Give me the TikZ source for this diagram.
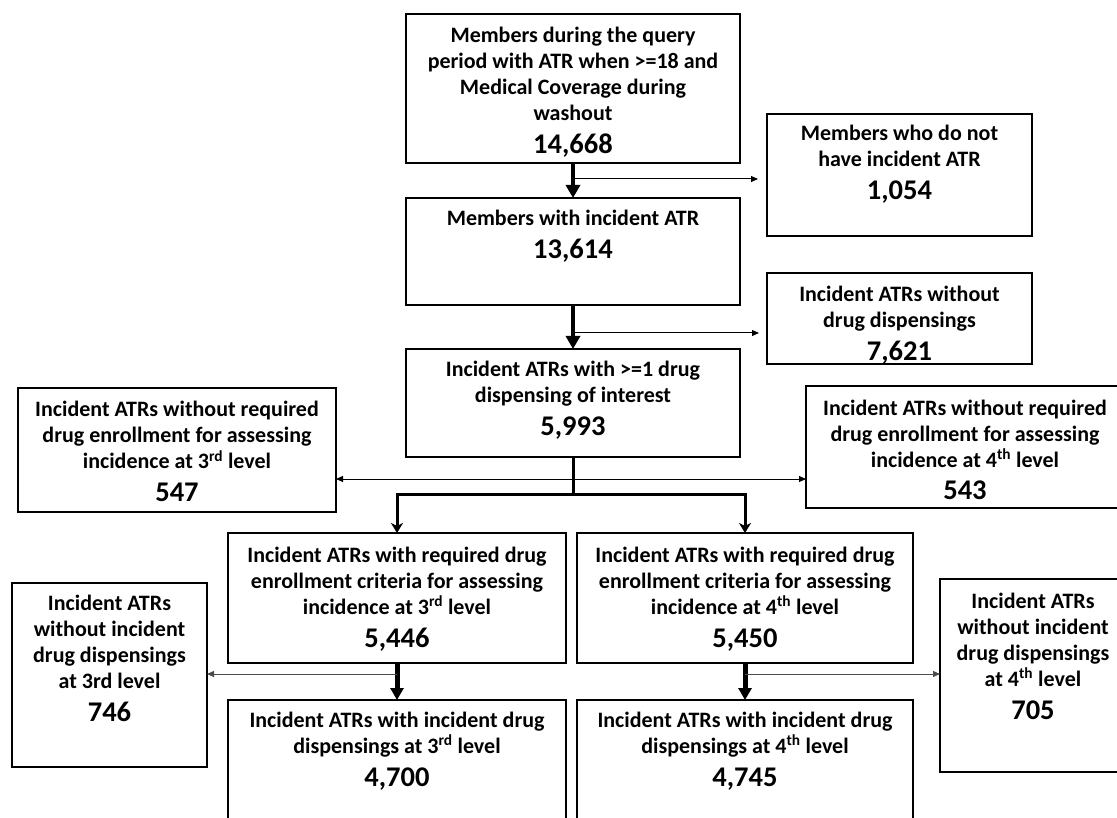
\documentclass[tikz,border=0pt]{standalone}
\usepackage{fontspec}
\setmainfont{Carlito}
\usetikzlibrary{arrows.meta}

% two-part box text: description lines, then the count in larger type
\newcommand\flowtext[2]{%
  \begin{minipage}[t]{360pt}\centering
  \fontsize{22}{26}\selectfont\bfseries #1\\[7pt]
  {\fontsize{28.5}{26}\selectfont #2}%
  \end{minipage}}

\begin{document}
\begin{tikzpicture}[x=1pt,y=-1pt,
  frame/.style={draw, line width=2.6pt, inner sep=0pt, outer sep=0pt},
  lbl/.style={anchor=base, inner sep=0pt, outer sep=0pt},
  main/.style={line width=4.5pt, -{Triangle[length=13pt,width=14pt]}},
  mainlow/.style={line width=5pt, -{Triangle[length=12pt,width=13pt]}},
  fork/.style={line width=3pt, -{Stealth[length=10pt,width=12pt,inset=3pt]}},
  side/.style={line width=1pt, -{Triangle[length=7pt,width=6pt]}},
  sidegray/.style={line width=1pt, draw=black!70, -{Triangle[length=7pt,width=6pt]}},
  both/.style={line width=1pt, {Triangle[length=7pt,width=6pt]}-{Triangle[length=7pt,width=6pt]}},
]
\useasboundingbox (0,0) rectangle (1117,818);
\clip (0,0) rectangle (1117,818);

% boxes
\node[frame, minimum width=334pt, minimum height=149pt] (a) at (573,88.5) {};
\node[frame, minimum width=334pt, minimum height=107pt] (b) at (573,251.5) {};
\node[frame, minimum width=265pt, minimum height=122pt] (c) at (899.5,175) {};
\node[frame, minimum width=265pt, minimum height=91pt]  (d) at (899.5,318.5) {};
\node[frame, minimum width=334pt, minimum height=108pt] (e) at (573,403) {};
\node[frame, minimum width=318pt, minimum height=124pt] (f) at (177,450) {};
\node[frame, minimum width=318pt, minimum height=122pt] (g) at (965,447) {};
\node[frame, minimum width=338pt, minimum height=130pt] (h) at (397,598) {};
\node[frame, minimum width=336pt, minimum height=130pt] (i) at (745,598) {};
\node[frame, minimum width=195pt, minimum height=184pt] (j) at (109.5,675) {};
\node[frame, minimum width=338pt, minimum height=150pt] (k) at (397,775) {};
\node[frame, minimum width=336pt, minimum height=150pt] (l) at (745,775) {};
\node[frame, minimum width=186pt, minimum height=193pt] (m) at (1033,675.5) {};

% box texts
\node[lbl] (ta) at ([yshift=-29pt]a.north) {\flowtext{Members during the query\\period with ATR when >=18 and\\Medical Coverage during\\washout}{14,668}};
\node[lbl] (tb) at ([yshift=-28pt]b.north) {\flowtext{Members with incident ATR}{13,614}};
\node[lbl] (tc) at ([yshift=-27pt]c.north) {\flowtext{Members who do not\\have incident ATR}{1,054}};
\node[lbl] (td) at ([yshift=-29pt]d.north) {\flowtext{Incident ATRs without\\drug dispensings}{7,621}};
\node[lbl] (te) at ([yshift=-28pt]e.north) {\flowtext{Incident ATRs with >=1 drug\\dispensing of interest}{5,993}};
\node[lbl] (tf) at ([yshift=-29pt]f.north) {\flowtext{Incident ATRs without required\\drug enrollment for assessing\\incidence at 3\textsuperscript{rd} level}{547}};
\node[lbl] (tg) at ([yshift=-29pt]g.north) {\flowtext{Incident ATRs without required\\drug enrollment for assessing\\incidence at 4\textsuperscript{th} level}{543}};
\node[lbl] (th) at ([yshift=-29pt]h.north) {\flowtext{Incident ATRs with required drug\\enrollment criteria for assessing\\incidence at 3\textsuperscript{rd} level}{5,446}};
\node[lbl] (ti) at ([yshift=-29pt]i.north) {\flowtext{Incident ATRs with required drug\\enrollment criteria for assessing\\incidence at 4\textsuperscript{th} level}{5,450}};
\node[lbl] (tj) at ([yshift=-27pt]j.north) {\flowtext{Incident ATRs\\without incident\\drug dispensings\\at 3rd level}{746}};
\node[lbl] (tk) at ([yshift=-27pt]k.north) {\flowtext{Incident ATRs with incident drug\\dispensings at 3\textsuperscript{rd} level}{4,700}};
\node[lbl] (tl) at ([yshift=-27pt]l.north) {\flowtext{Incident ATRs with incident drug\\dispensings at 4\textsuperscript{th} level}{4,745}};
\node[lbl] (tm) at ([yshift=-29pt]m.north) {\flowtext{Incident ATRs\\without incident\\drug dispensings\\at 4\textsuperscript{th} level}{705}};

% main flow
\draw[main] (a.south) -- (b.north);
\coordinate (ja) at (573,179);
\draw[side] (ja) -- ([xshift=-9pt]ja -| c.west);
\draw[main] (b.south) -- (e.north);
\coordinate (jb) at (573,333);
\draw[side] (jb) -- ([xshift=-8pt]jb -| d.west);

% split into the 3rd and 4th level branches
\coordinate (jx) at (573,479);
\draw[both] (jx -| f.east) -- (jx -| g.west);
\coordinate (fk) at (573,494);
\draw[fork] (e.south) -- (fk) -| (h.north);
\draw[fork] (fk) -| (i.north);

% lower branches
\draw[mainlow] (h.south) -- (k.north);
\coordinate (jh) at (397,674);
\draw[sidegray] (jh) -- (jh -| j.east);
\draw[mainlow] (i.south) -- (l.north);
\coordinate (ji) at (745,674);
\draw[sidegray] (ji) -- (ji -| m.west);
\end{tikzpicture}
\end{document}
